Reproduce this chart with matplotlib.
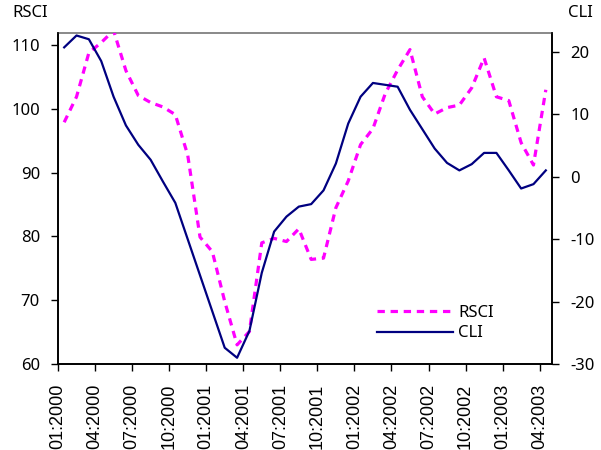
import numpy as np
import matplotlib
matplotlib.use("Agg")
import matplotlib.pyplot as plt

# monthly observations, 01:2000 .. 04:2003
rsci = [97.9, 101.9, 108.8, 110.4, 112.3, 106.0, 102.1, 101.0, 100.3, 99.1,
        92.8, 79.9, 77.6, 69.8, 63.0, 65.1, 79.0, 79.7, 79.2, 81.2,
        76.4, 76.6, 84.5, 88.7, 94.4, 96.9, 102.4, 106.1, 109.3, 101.9,
        99.2, 100.2, 100.6, 103.3, 108.0, 101.9, 101.3, 94.7, 91.2, 103.0]
cli = [20.7, 22.6, 22.0, 18.5, 12.8, 8.2, 5.1, 2.7, -0.8, -4.2,
       -10.0, -15.8, -21.6, -27.4, -29.0, -24.7, -15.4, -8.8, -6.4, -4.8,
       -4.4, -2.2, 2.1, 8.5, 12.8, 15.0, 14.7, 14.4, 10.7, 7.6,
       4.5, 2.2, 1.0, 2.0, 3.8, 3.8, 1.0, -1.9, -1.2, 1.0]
tick_labels = ["01:2000", "04:2000", "07:2000", "10:2000", "01:2001", "04:2001",
               "07:2001", "10:2001", "01:2002", "04:2002", "07:2002", "10:2002",
               "01:2003", "04:2003"]
rsci_ticks = [60, 70, 80, 90, 100, 110]
cli_ticks = [-30, -20, -10, 0, 10, 20]

x = np.arange(len(rsci)) + 0.5

fig = plt.figure(figsize=(6.01, 4.5), dpi=100)
ax = fig.add_axes([58 / 601, 1 - 364 / 450, (552 - 58) / 601, (364 - 33) / 450])
ax2 = ax.twinx()

l1, = ax.plot(x, rsci, color="#FF00FF", lw=2.3, dashes=(2.3, 1.8), zorder=3)
l2, = ax2.plot(x, cli, color="#000080", lw=1.6)

ax.set_xlim(0, len(rsci))
ax.set_ylim(60, 111.9)
ax2.set_ylim(-30, 23.0)

ax.set_xticks(np.arange(0, len(rsci), 3))
ax.set_xticklabels(tick_labels, rotation=90, family="Liberation Sans", fontsize=13)
ax.set_yticks(rsci_ticks)
ax.set_yticklabels([str(v) for v in rsci_ticks], family="Noto Sans", fontsize=12)
ax2.set_yticks(cli_ticks)
ax2.set_yticklabels([str(v) for v in cli_ticks], family="Noto Sans", fontsize=12)

ax.tick_params(axis="x", length=5, width=1, pad=9)
ax.tick_params(axis="y", length=5, width=1, pad=8)
ax2.tick_params(axis="y", length=5, width=1, pad=8)

# only one grey top border, black elsewhere
ax2.spines["top"].set_visible(False)
ax.spines["top"].set_color("#808080")
ax.spines["top"].set_linewidth(1.3)
for a in (ax, ax2):
    for s in ("left", "right", "bottom"):
        a.spines[s].set_linewidth(1.2)

fig.text(12 / 601, 1 - 13 / 450, "RSCI", family="Noto Sans", fontsize=12, va="center")
fig.text(568 / 601, 1 - 13 / 450, "CLI", family="Noto Sans", fontsize=12, va="center")

ax2.legend([l1, l2], ["RSCI", "CLI"], loc="center left",
           bbox_to_anchor=(365 / 601, 1 - 323 / 450), bbox_transform=fig.transFigure,
           frameon=False, prop={"family": "Noto Sans", "size": 12},
           handlelength=4.6, handletextpad=0.3, labelspacing=0.28, borderpad=0.2)

fig.savefig("out.png", dpi=100)
